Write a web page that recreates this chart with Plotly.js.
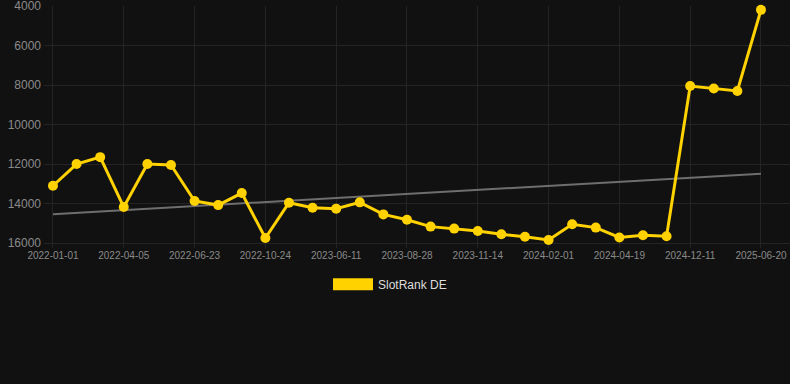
<!DOCTYPE html>
<html>
<head>
<meta charset="utf-8">
<script src="https://cdn.plot.ly/plotly-3.0.1.min.js"></script>
<style>
html,body{margin:0;padding:0;background:#111111;}
#chart{width:790px;height:384px;}
</style>
</head>
<body>
<div id="chart"></div>
<script>
// Category dates (every third one is labelled on the axis)
const dates = [
  "2022-01-01","2022-02-01","2022-03-04",
  "2022-04-05","2022-05-01","2022-05-28",
  "2022-06-23","2022-08-03","2022-09-13",
  "2022-10-24","2023-01-15","2023-04-01",
  "2023-06-11","2023-07-06","2023-08-02",
  "2023-08-28","2023-09-23","2023-10-19",
  "2023-11-14","2023-12-10","2024-01-05",
  "2024-02-01","2024-02-27","2024-03-24",
  "2024-04-19","2024-07-01","2024-09-20",
  "2024-12-11","2025-02-12","2025-04-17",
  "2025-06-20"
];
// SlotRank DE values (rank, lower is better -> reversed axis)
const rankDE = [
  13100, 12000, 11650,
  14180, 12000, 12050,
  13870, 14080, 13470,
  15750, 13960, 14210,
  14260, 13940, 14550,
  14820, 15170, 15270,
  15390, 15560, 15680,
  15850, 15050, 15220,
  15720, 15610, 15660,
  8050, 8170, 8300,
  4190
];
// Trend line end values
const trendX = [dates[0], dates[dates.length - 1]];
const trendY = [14540, 12490];
const seriesName = "SlotRank DE";
const yTicks = [4000, 6000, 8000, 10000, 12000, 14000, 16000];

const tickVals = dates.filter((d, i) => i % 3 === 0);

const traces = [
  {
    x: trendX, y: trendY, type: "scatter", mode: "lines",
    line: {color: "#6e6e6e", width: 2},
    showlegend: false, hoverinfo: "skip"
  },
  {
    x: dates, y: rankDE, type: "scatter", mode: "lines+markers",
    name: seriesName,
    line: {color: "#FFD200", width: 3},
    marker: {color: "#FFD200", size: 10},
    cliponaxis: false,
    showlegend: false
  },
  {
    x: [dates[0]], y: [null], type: "bar", name: seriesName,
    marker: {color: "#FFD200", line: {width: 0}},
    showlegend: true, hoverinfo: "skip"
  }
];

const layout = {
  width: 790, height: 384,
  paper_bgcolor: "#111111", plot_bgcolor: "#111111",
  margin: {l: 44, r: 0, t: 6, b: 136},
  font: {family: "Arial, 'Liberation Sans', sans-serif", color: "#888888"},
  xaxis: {
    type: "category",
    categoryorder: "array", categoryarray: dates,
    range: [-0.38, 31.23],
    tickvals: tickVals, ticktext: tickVals,
    tickfont: {size: 10, color: "#8a8a8a"},
    tickangle: 0,
    showgrid: true, gridcolor: "#242424", gridwidth: 1,
    zeroline: false, showline: false, ticks: "",
    fixedrange: true
  },
  yaxis: {
    range: [16253, 3995],
    tickvals: yTicks,
    ticktext: yTicks.map(String),
    tickfont: {size: 12, color: "#8a8a8a"},
    showgrid: true, gridcolor: "#242424", gridwidth: 1,
    zeroline: false, showline: false, ticks: "",
    ticklabelstandoff: 2,
    ticklabeloverflow: "allow",
    fixedrange: true
  },
  showlegend: true,
  legend: {
    orientation: "h", x: 0.4638, xanchor: "center", y: -0.09, yanchor: "top",
    font: {size: 12, color: "#dddddd"},
    itemwidth: 40,
    bgcolor: "rgba(0,0,0,0)"
  },
  bargap: 0.2
};

Plotly.newPlot("chart", traces, layout, {displayModeBar: false, staticPlot: true}).then(function (gd) {
  // widen the legend swatch into a bar-like rectangle
  gd.querySelectorAll(".legend .legendpoints path").forEach(function (p) {
    p.setAttribute("d", "M-20,-6h40v12h-40z");
  });
});
</script>
</body>
</html>
